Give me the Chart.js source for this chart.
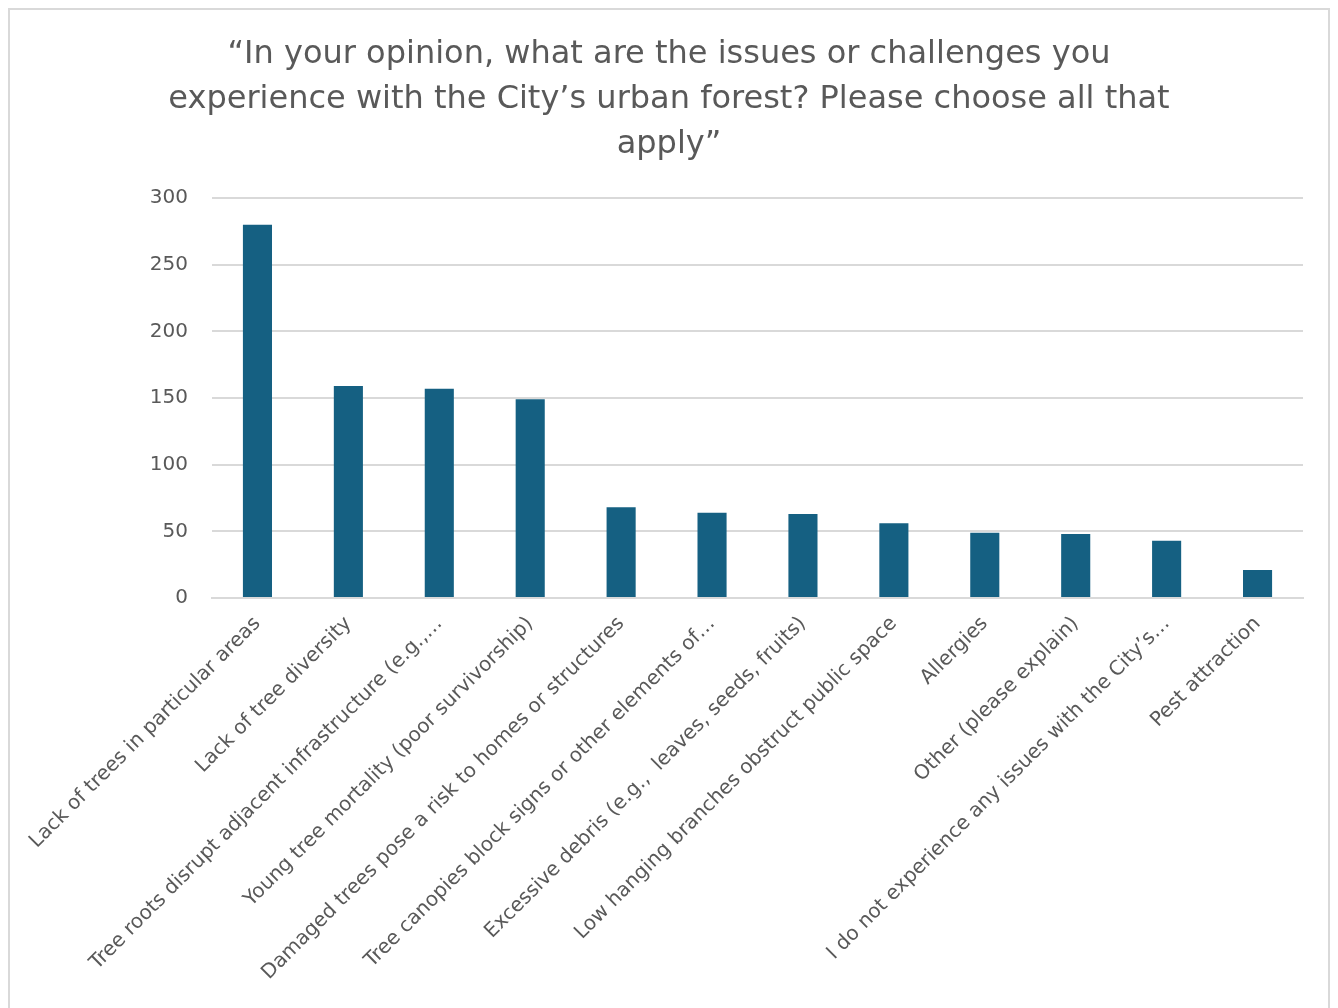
<!DOCTYPE html>
<html>
<head>
<meta charset="utf-8">
<script src="https://cdn.jsdelivr.net/npm/chart.js@4"></script>
<style>
  body { margin: 0; background: #fff; }
  #wrap { position: relative; width: 1338px; height: 1008px; }
  #frame { position: absolute; left: 8px; top: 8px; width: 1322px; height: 1010px; border: 2px solid #d9d9d9; box-sizing: border-box; }
  canvas { position: absolute; left: 0; top: 0; }
</style>
</head>
<body>
<div id="wrap">
  <div id="frame"></div>
  <canvas id="barChart" width="1338" height="1008"></canvas>
</div>
<script>
let issueLabels = [
  "Lack of trees in particular areas",
  "Lack of tree diversity",
  "Tree roots disrupt adjacent infrastructure (e.g.,…",
  "Young tree mortality (poor survivorship)",
  "Damaged trees pose a risk to homes or structures",
  "Tree canopies block signs or other elements of…",
  "Excessive debris (e.g.,  leaves, seeds, fruits)",
  "Low hanging branches obstruct public space",
  "Allergies",
  "Other (please explain)",
  "I do not experience any issues with the City’s…",
  "Pest attraction"
];
let issueCounts = [280, 159, 157, 149, 68, 64, 63, 56, 49, 48, 43, 21];
let yTicks = [0, 50, 100, 150, 200, 250, 300];

let titleLines = [
  "“In your opinion, what are the issues or challenges you",
  "experience with the City’s urban forest? Please choose all that",
  "apply”"
];

let textGrey = '#595959';
let gridGrey = '#d9d9d9';
let fontName = "'DejaVu Sans', sans-serif";

let barCtx = document.getElementById('barChart').getContext('2d');
let barChart = new Chart(barCtx, {
  type: 'bar',
  data: {
    labels: issueLabels,
    datasets: [{
      label: 'Responses',
      data: issueCounts,
      backgroundColor: '#156082',
      borderWidth: 0,
      barPercentage: 0.32,
      categoryPercentage: 1.0
    }]
  },
  options: {
    responsive: false,
    animation: false,
    layout: { padding: 0 },
    plugins: {
      legend: { display: false },
      tooltip: { enabled: false },
      title: {
        display: true,
        text: titleLines,
        color: textGrey,
        font: { family: fontName, size: 32, weight: 'normal', lineHeight: 1.406 },
        padding: { top: 32, bottom: 31 }
      }
    },
    scales: {
      x: {
        grid: { display: false },
        border: { color: gridGrey, width: 2 },
        ticks: {
          color: textGrey,
          font: { family: fontName, size: 20 },
          minRotation: 45,
          maxRotation: 45,
          autoSkip: false,
          padding: 6
        },
        afterFit: function(scale) { scale.height = 410; }
      },
      y: {
        min: 0,
        max: 300,
        afterBuildTicks: function(scale) {
          scale.ticks = yTicks.map(function(v) { return { value: v }; });
        },
        grid: { color: gridGrey, lineWidth: 2, drawTicks: false },
        border: { display: false },
        ticks: {
          color: textGrey,
          font: { family: fontName, size: 20 },
          padding: 24
        },
        afterFit: function(scale) { scale.width = 212; }
      },
      // empty right-hand axis, keeps a margin so the title stays centred on the page
      yRight: {
        position: 'right',
        display: true,
        grid: { display: false },
        border: { display: false },
        ticks: { display: false },
        afterFit: function(scale) { scale.width = 35; }
      }
    }
  }
});
</script>
</body>
</html>
